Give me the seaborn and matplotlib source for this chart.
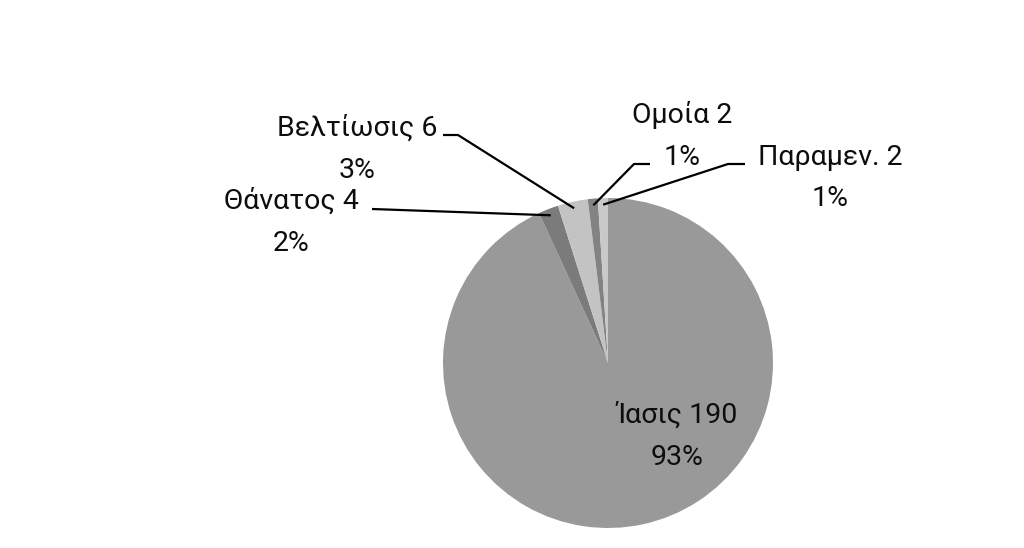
import matplotlib
matplotlib.use("Agg")
import matplotlib.pyplot as plt
import seaborn as sns
import numpy as np

# ---- data ----
categories = ["Ίασις", "Θάνατος", "Βελτίωσις", "Ομοία", "Παραμεν."]
counts = [190, 4, 6, 2, 2]
percents = ["93%", "2%", "3%", "1%", "1%"]
colors = ["#999999", "#7b7b7b", "#c3c3c3", "#838383", "#c9c9c9"]

sns.set_theme(style="white")
plt.rcParams['font.family'] = ['Roboto', 'DejaVu Sans']

W, H = 1024, 548
fig = plt.figure(figsize=(W / 100, H / 100), dpi=100)
fig.patch.set_facecolor("white")

# pie centre / radius in pixels (layout)
cx, cy, R = 608, 363, 165
ax = fig.add_axes([(cx - R) / W, (H - cy - R) / H, 2 * R / W, 2 * R / H])
ax.axis("off")

wedges, _ = ax.pie(counts, colors=colors, startangle=90, counterclock=False,
                   radius=1.0, center=(0, 0), frame=False,
                   wedgeprops=dict(edgecolor="none", linewidth=0))
ax.set_xlim(-1, 1)
ax.set_ylim(-1, 1)


def px(x, y):
    return ((x - cx) / R, (cy - y) / R)


# label layout (pixel positions of text-block centres and leader elbows)
label_pos = [(677, 436), (291, 222), (357, 149), (682, 136), (830, 178)]
elbows = [None,
          [(372, 209)],
          [(443, 135), (458, 135)],
          [(650, 164), (634, 164)],
          [(745, 164), (728, 164)]]

fs = 20.5
for i, (cat, n, pct) in enumerate(zip(categories, counts, percents)):
    lx, ly = px(*label_pos[i])
    ax.text(lx, ly, f"{cat} {n}\n{pct}", ha="center", va="center",
            multialignment="center", fontsize=fs, color="#0d0d0d",
            linespacing=1.7, clip_on=False)
    if elbows[i] is not None:
        w = wedges[i]
        mid = np.deg2rad((w.theta1 + w.theta2) / 2)
        ax_, ay_ = 0.96 * np.cos(mid), 0.96 * np.sin(mid)
        pts = [px(*p) for p in elbows[i]] + [(ax_, ay_)]
        xs = [p[0] for p in pts]
        ys = [p[1] for p in pts]
        ax.plot(xs, ys, color="black", lw=1.6, clip_on=False,
                solid_capstyle="butt", zorder=5)

fig.savefig("out.png", dpi=100, facecolor="white")
